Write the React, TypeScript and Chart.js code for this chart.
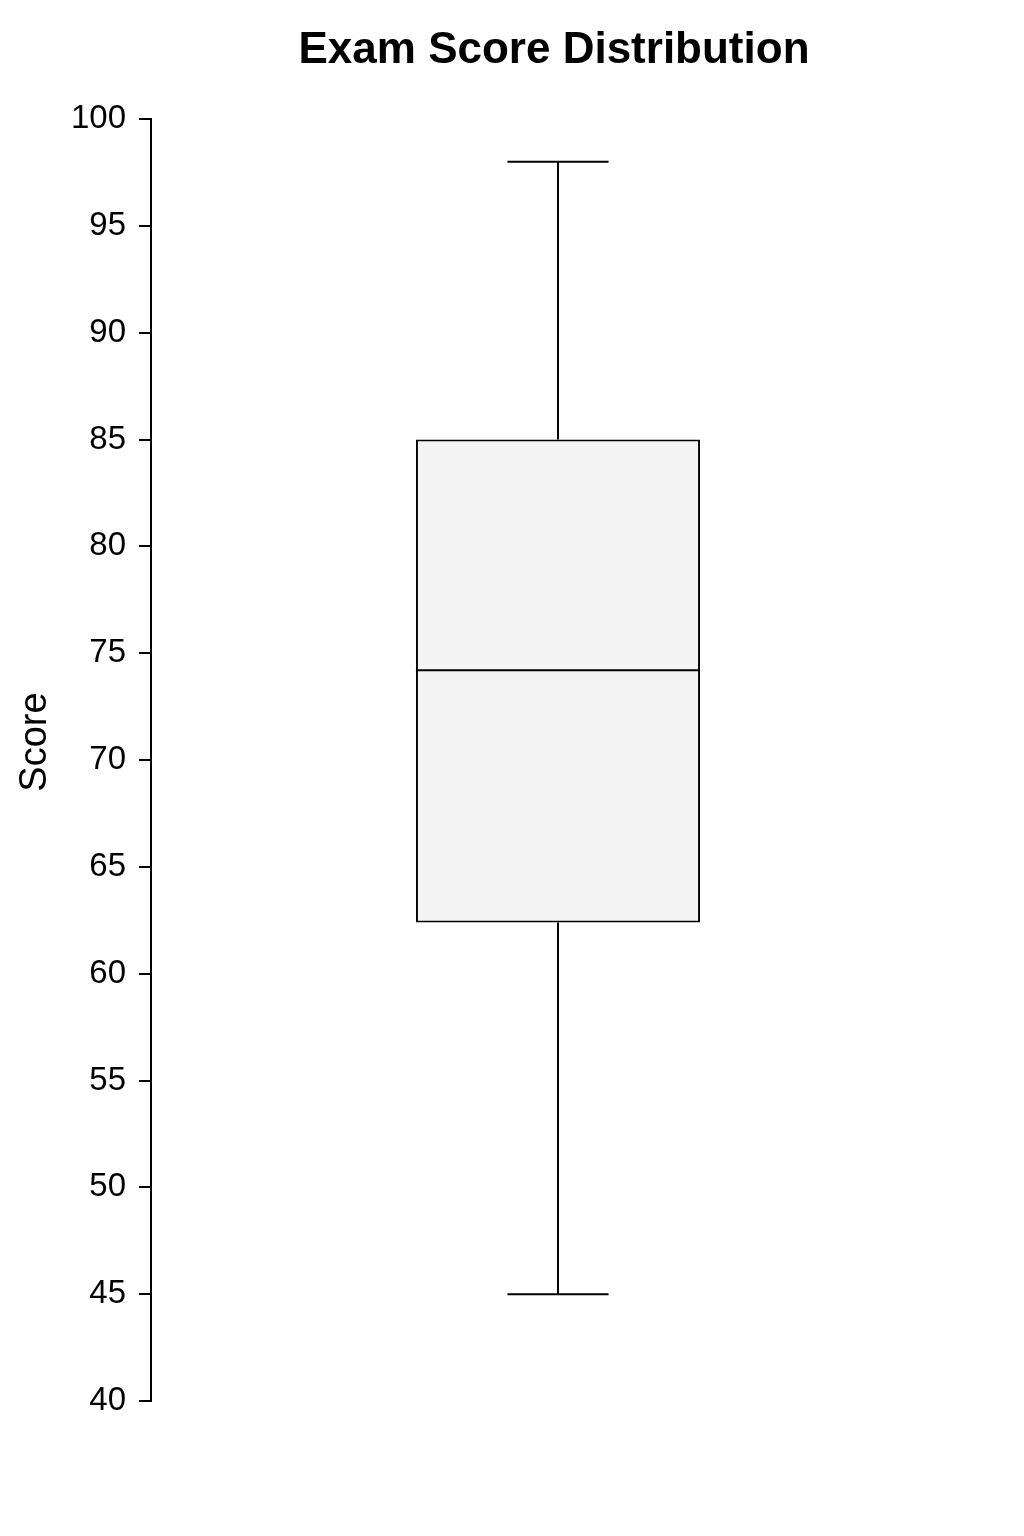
import React, { useEffect, useRef } from "react";
import { Chart, registerables } from "chart.js";

Chart.register(...registerables);

const categories = ["Exam Score"];
const minValues = [45];
const q1Values = [62.4];
const medianValues = [74.2];
const q3Values = [85];
const maxValues = [98];
const yMin = 40;
const yMax = 100;
const yStep = 5;
const chartTitle = "Exam Score Distribution";
const yAxisTitle = "Score";

const FONT = "'Liberation Sans', Arial, Helvetica, sans-serif";

const boxPlugin = {
  id: "boxWhiskers",
  afterDatasetsDraw(chart: any) {
    const meta = chart.getDatasetMeta(0);
    const yScale = chart.scales.y;
    const ctx = chart.ctx;
    ctx.save();
    ctx.strokeStyle = "#000";
    ctx.lineWidth = 2;
    meta.data.forEach((bar: any, i: number) => {
      const x = bar.x;
      const w = bar.width;
      const cap = w * 0.356;
      const yMinP = yScale.getPixelForValue(minValues[i]);
      const yQ1 = yScale.getPixelForValue(q1Values[i]);
      const yMed = yScale.getPixelForValue(medianValues[i]);
      const yQ3 = yScale.getPixelForValue(q3Values[i]);
      const yMaxP = yScale.getPixelForValue(maxValues[i]);
      ctx.beginPath();
      ctx.moveTo(x, yQ3);
      ctx.lineTo(x, yMaxP);
      ctx.moveTo(x - cap / 2, yMaxP);
      ctx.lineTo(x + cap / 2, yMaxP);
      ctx.moveTo(x, yQ1);
      ctx.lineTo(x, yMinP);
      ctx.moveTo(x - cap / 2, yMinP);
      ctx.lineTo(x + cap / 2, yMinP);
      ctx.moveTo(x - w / 2, yMed);
      ctx.lineTo(x + w / 2, yMed);
      ctx.stroke();
    });
    ctx.restore();
  },
};

const titlePlugin = {
  id: "titles",
  afterDraw(chart: any) {
    const ctx = chart.ctx;
    const area = chart.chartArea;
    ctx.save();
    ctx.fillStyle = "#000";
    ctx.font = `bold 44px ${FONT}`;
    ctx.textAlign = "center";
    ctx.textBaseline = "middle";
    ctx.fillText(chartTitle, (area.left + area.right) / 2 - 4, 51);
    ctx.restore();

    ctx.save();
    ctx.fillStyle = "#000";
    ctx.font = `38px ${FONT}`;
    ctx.textAlign = "center";
    ctx.textBaseline = "middle";
    ctx.translate(36, (area.top + area.bottom) / 2 - 18);
    ctx.rotate(-Math.PI / 2);
    ctx.fillText(yAxisTitle, 0, 0);
    ctx.restore();
  },
};

export default function App() {
  const ref = useRef<HTMLCanvasElement>(null);

  useEffect(() => {
    document.body.style.margin = "0";
    const canvas = ref.current;
    if (!canvas) return;
    const chart = new Chart(canvas, {
      type: "bar",
      data: {
        labels: categories,
        datasets: [
          {
            label: yAxisTitle,
            data: categories.map((_, i) => [q1Values[i], q3Values[i]]) as any,
            backgroundColor: "#f4f4f4",
            borderColor: "#000",
            borderWidth: 2,
            borderSkipped: false,
            categoryPercentage: 1,
            barPercentage: 0.349,
          },
        ],
      },
      options: {
        responsive: false,
        animation: false,
        devicePixelRatio: 1,
        layout: { padding: { top: 119, bottom: 135, left: 0, right: 59 } },
        plugins: {
          legend: { display: false },
          tooltip: { enabled: false },
          title: { display: false },
        },
        scales: {
          x: { display: false },
          y: {
            min: yMin,
            max: yMax,
            afterFit(scale: any) {
              scale.width = 151;
            },
            ticks: {
              stepSize: yStep,
              color: "#000",
              padding: 13,
              font: { family: FONT, size: 33 },
            },
            grid: {
              drawOnChartArea: false,
              drawTicks: true,
              tickLength: 12,
              color: "#000",
              lineWidth: 2,
            },
            border: { display: true, color: "#000", width: 2 },
            title: { display: false },
          },
        },
      },
      plugins: [boxPlugin, titlePlugin],
    });
    return () => chart.destroy();
  }, []);

  return <canvas ref={ref} width={1024} height={1536} style={{ display: "block" }} />;
}
